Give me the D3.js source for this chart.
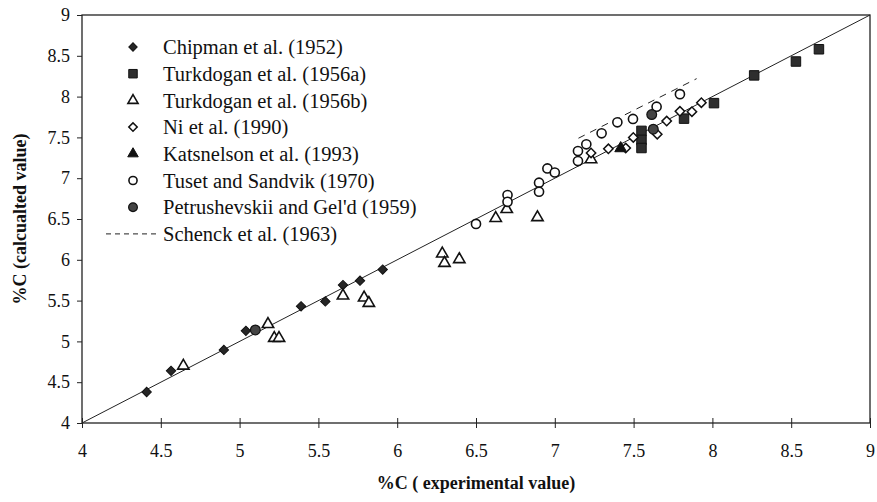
<!DOCTYPE html>
<html>
<head>
<meta charset="utf-8">
<script src="https://cdn.jsdelivr.net/npm/d3@7"></script>
<style>
    body { margin: 0; background: #fff; }
    svg text { font-family: 'Liberation Serif', 'Times New Roman', serif; fill: #111; }
</style>
</head>
<body>
<div id="chart"></div>
<script>
// [experimental, calculated] pairs
let chipman = [[4.41, 4.38], [4.565, 4.64], [4.90, 4.895], [5.04, 5.13], [5.39, 5.43],
    [5.544, 5.49], [5.656, 5.69], [5.764, 5.744], [5.908, 5.88]];
let turkdoganA = [[7.55, 7.58], [7.55, 7.47], [7.55, 7.37], [7.82, 7.73], [8.01, 7.92],
    [8.265, 8.26], [8.53, 8.43], [8.676, 8.58]];
let turkdoganB = [[4.643, 4.70], [5.18, 5.21], [5.22, 5.04], [5.25, 5.04], [5.656, 5.56],
    [5.79, 5.535], [5.82, 5.47], [6.286, 6.075], [6.30, 5.96], [6.394, 6.006],
    [6.625, 6.51], [6.695, 6.62], [6.89, 6.52], [7.23, 7.23]];
let ni = [[7.23, 7.31], [7.34, 7.36], [7.45, 7.37], [7.498, 7.50], [7.65, 7.54],
    [7.71, 7.70], [7.794, 7.82], [7.87, 7.815], [7.93, 7.925]];
let katsnelson = [[7.418, 7.366]];
let tuset = [[6.50, 6.44], [6.70, 6.794], [6.70, 6.71], [6.90, 6.945], [6.90, 6.835],
    [6.953, 7.12], [7.00, 7.07], [7.147, 7.333], [7.147, 7.21], [7.20, 7.415],
    [7.297, 7.55], [7.397, 7.685], [7.496, 7.726], [7.646, 7.876], [7.794, 8.03]];
let petrushevskii = [[5.10, 5.14], [7.615, 7.78], [7.625, 7.60]];
let schenck = [[7.15, 7.49], [7.9, 8.22]];
let parity = [[4, 4], [9, 9]];

let tickValues = [4, 4.5, 5, 5.5, 6, 6.5, 7, 7.5, 8, 8.5, 9];
let legendLabels = ['Chipman et al. (1952)', 'Turkdogan et al. (1956a)', 'Turkdogan et al. (1956b)',
    'Ni et al. (1990)', 'Katsnelson et al. (1993)', 'Tuset and Sandvik (1970)',
    "Petrushevskii and Gel'd (1959)", 'Schenck et al. (1963)'];

let width = 877;
let height = 502;
let margin = { top: 15, right: 7, bottom: 79, left: 82 };

let svg = d3.select('#chart')
    .append('svg')
    .attr('width', width)
    .attr('height', height);

let xScale = d3.scaleLinear()
    .domain([4, 9])
    .range([margin.left, width - margin.right]);

let yScale = d3.scaleLinear()
    .domain([4, 9])
    .range([height - margin.bottom, margin.top]);

// marker styles, one per series (diamonds are squares turned 45 degrees)
let styles = [
    { data: chipman, type: d3.symbolSquare, rot: 45, size: 44, fill: '#262626', stroke: '#111', sw: 1 },
    { data: turkdoganA, type: d3.symbolSquare, rot: 0, size: 90, fill: '#2e2e2e', stroke: '#111', sw: 1 },
    { data: turkdoganB, type: d3.symbolTriangle, rot: 0, size: 56, fill: '#fff', stroke: '#111', sw: 1.6 },
    { data: ni, type: d3.symbolSquare, rot: 45, size: 44, fill: '#fff', stroke: '#111', sw: 1.5 },
    { data: katsnelson, type: d3.symbolTriangle, rot: 0, size: 60, fill: '#111', stroke: '#111', sw: 1 },
    { data: tuset, type: d3.symbolCircle, rot: 0, size: 65, fill: '#fff', stroke: '#111', sw: 1.6 },
    { data: petrushevskii, type: d3.symbolCircle, rot: 0, size: 75, fill: '#444', stroke: '#111', sw: 1.2 }
];

// frame
svg.append('rect')
    .attr('x', xScale(4))
    .attr('y', yScale(9))
    .attr('width', xScale(9) - xScale(4))
    .attr('height', yScale(4) - yScale(9))
    .attr('fill', 'none')
    .attr('stroke', '#222')
    .attr('stroke-width', 1.3);

let xAxis = d3.axisBottom(xScale)
    .tickValues(tickValues)
    .tickFormat(d3.format('~g'))
    .tickSizeInner(5)
    .tickSizeOuter(0)
    .tickPadding(16);

let yAxis = d3.axisLeft(yScale)
    .tickValues(tickValues)
    .tickFormat(d3.format('~g'))
    .tickSizeInner(5)
    .tickSizeOuter(0)
    .tickPadding(7);

let gx = svg.append('g')
    .attr('transform', `translate(0, ${yScale(4)})`)
    .call(xAxis);

let gy = svg.append('g')
    .attr('transform', `translate(${xScale(4)}, 0)`)
    .call(yAxis);

[gx, gy].forEach(g => {
    g.select('.domain').remove();
    g.selectAll('line').attr('stroke', '#222');
    g.selectAll('text')
        .style('font-size', '18px')
        .attr('fill', '#111');
});

// ticks cross the bottom line
gx.selectAll('.tick line').attr('y1', -5).attr('y2', 5);

// y = x line
let line = d3.line()
    .x(d => xScale(d[0]))
    .y(d => yScale(d[1]));

svg.append('path')
    .datum(parity)
    .attr('d', line)
    .attr('fill', 'none')
    .attr('stroke', '#222')
    .attr('stroke-width', 1);

svg.append('path')
    .datum(schenck)
    .attr('d', line)
    .attr('fill', 'none')
    .attr('stroke', '#222')
    .attr('stroke-width', 1)
    .attr('stroke-dasharray', '7,6');

let symbol = d3.symbol();

styles.forEach(s => {
    svg.append('g')
        .selectAll('path')
        .data(s.data)
        .join('path')
        .attr('transform', d => `translate(${xScale(d[0])}, ${yScale(d[1])}) rotate(${s.rot})`)
        .attr('d', symbol.type(s.type).size(s.size)())
        .attr('fill', s.fill)
        .attr('stroke', s.stroke)
        .attr('stroke-width', s.sw);
});

// legend
let legend = svg.append('g');
let legendX = 133;
let legendY = 47;
let legendStep = 26.7;

legendLabels.forEach((label, i) => {
    let y = legendY + i * legendStep;
    if (i < styles.length) {
        let s = styles[i];
        legend.append('path')
            .attr('transform', `translate(${legendX}, ${y}) rotate(${s.rot})`)
            .attr('d', symbol.type(s.type).size(s.size * 0.8)())
            .attr('fill', s.fill)
            .attr('stroke', s.stroke)
            .attr('stroke-width', s.sw);
    } else {
        legend.append('line')
            .attr('x1', legendX - 27)
            .attr('x2', legendX + 26)
            .attr('y1', y)
            .attr('y2', y)
            .attr('stroke', '#222')
            .attr('stroke-width', 1)
            .attr('stroke-dasharray', '5,4');
    }
    legend.append('text')
        .attr('x', legendX + 30)
        .attr('y', y)
        .attr('dy', '0.35em')
        .style('font-size', '20.5px')
        .text(label);
});

// axis titles
svg.append('text')
    .attr('x', (xScale(4) + xScale(9)) / 2)
    .attr('y', 489)
    .attr('text-anchor', 'middle')
    .style('font-size', '18px')
    .style('font-weight', 'bold')
    .text('%C ( experimental value)');

svg.append('text')
    .attr('transform', `translate(20, ${(yScale(4) + yScale(9)) / 2}) rotate(-90)`)
    .attr('text-anchor', 'middle')
    .attr('dy', '0.35em')
    .style('font-size', '18px')
    .style('font-weight', 'bold')
    .text('%C (calcualted value)');
</script>
</body>
</html>
